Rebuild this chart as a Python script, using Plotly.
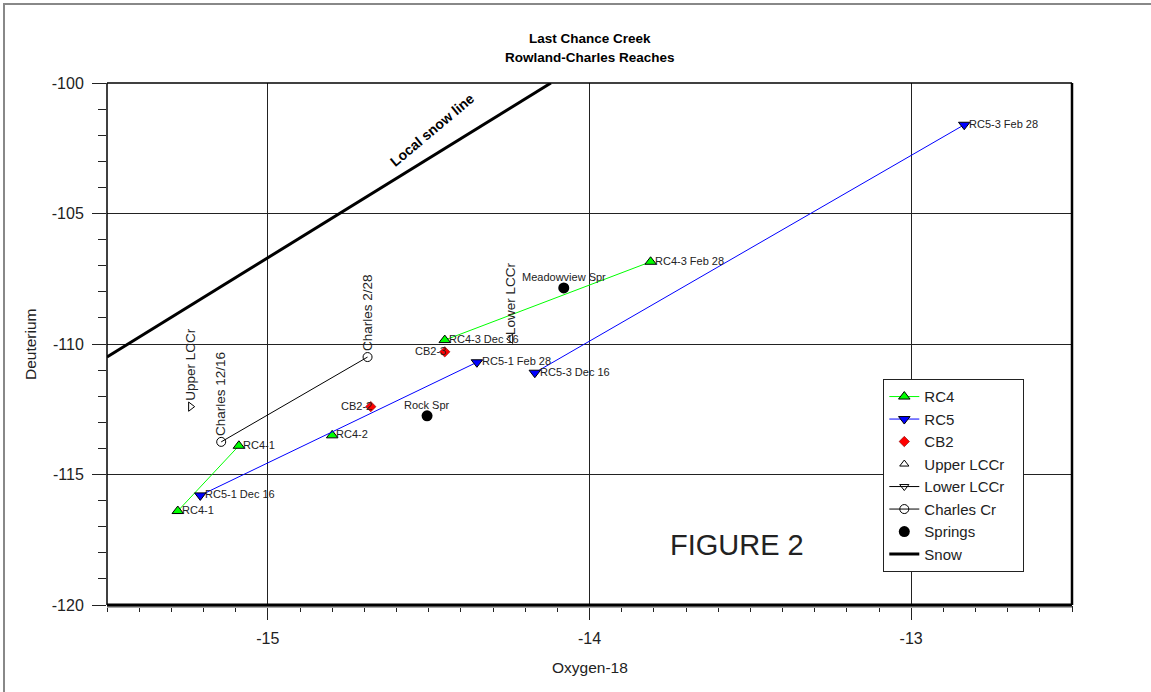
import numpy as np
import plotly.graph_objects as go

# ---------------- data ----------------
rc4_labels = ["RC4-1", "RC4-1", "RC4-2", "RC4-3 Dec 16", "RC4-3 Feb 28"]
rc4_x = [-15.28, -15.09, -14.80, -14.45, -13.81]
rc4_y = [-116.4, -113.9, -113.5, -109.85, -106.85]
rc4_groups = [[0, 1], [2], [3, 4]]

rc5_labels = ["RC5-1 Dec 16", "RC5-1 Feb 28", "RC5-3 Dec 16", "RC5-3 Feb 28"]
rc5_x = [-15.21, -14.35, -14.17, -12.835]
rc5_y = [-115.8, -110.7, -111.1, -101.6]
rc5_groups = [[0, 1], [2, 3]]

cb2_labels = ["CB2-2", "CB2-3"]
cb2_x = [-14.68, -14.45]
cb2_y = [-112.4, -110.3]

upper_labels = ["Upper LCCr"]
upper_x = [-15.24]
upper_y = [-112.4]

lower_labels = ["Lower LCCr"]
lower_x = [-14.245]
lower_y = [-109.8]

charles_labels = ["Charles 12/16", "Charles 2/28"]
charles_x = [-15.145, -14.69]
charles_y = [-113.75, -110.5]

springs_labels = ["Rock Spr", "Meadowview Spr"]
springs_x = [-14.505, -14.08]
springs_y = [-112.75, -107.85]

snow_x = [-15.5, -14.12]
snow_y = [-110.5, -100.0]

x_range = [-15.5, -12.5]
y_range = [-120, -100]
x_tickvals = [-15, -14, -13]
x_ticktext = ["-15", "-14", "-13"]
y_tickvals = [-120, -115, -110, -105, -100]
y_ticktext = ["-120", "-115", "-110", "-105", "-100"]

FONT = "Arial, Liberation Sans, Helvetica, sans-serif"


def grouped(xs, ys, groups):
    gx, gy = [], []
    for i, g in enumerate(groups):
        if i:
            gx.append(None)
            gy.append(None)
        gx += [xs[k] for k in g]
        gy += [ys[k] for k in g]
    return gx, gy


fig = go.Figure()

gx, gy = grouped(rc4_x, rc4_y, rc4_groups)
fig.add_trace(go.Scatter(x=gx, y=gy, mode="lines+markers", name="RC4",
                         line=dict(color="#00FF00", width=1),
                         marker=dict(symbol="triangle-up", size=10, color="#00FF00",
                                     line=dict(color="black", width=1))))
gx, gy = grouped(rc5_x, rc5_y, rc5_groups)
fig.add_trace(go.Scatter(x=gx, y=gy, mode="lines+markers", name="RC5",
                         line=dict(color="#0000FF", width=1),
                         marker=dict(symbol="triangle-down", size=10, color="#0000FF",
                                     line=dict(color="black", width=1))))
fig.add_trace(go.Scatter(x=cb2_x, y=cb2_y, mode="markers", name="CB2",
                         marker=dict(symbol="diamond", size=8, color="#FF0000",
                                     line=dict(color="#800000", width=0.6))))
# Upper LCCr
fig.add_trace(go.Scatter(x=upper_x, y=upper_y, mode="markers", name="Upper LCCr",
                         showlegend=False,
                         marker=dict(symbol="triangle-right-open", size=8, color="black",
                                     line=dict(width=1))))
fig.add_trace(go.Scatter(x=[None], y=[None], mode="markers", name="Upper LCCr&nbsp;&nbsp;&nbsp;",
                         marker=dict(symbol="triangle-up-open", size=8, color="black",
                                     line=dict(width=1))))
# Lower LCCr
fig.add_trace(go.Scatter(x=lower_x, y=lower_y, mode="markers", name="Lower LCCr",
                         showlegend=False,
                         marker=dict(symbol="triangle-left-open", size=8, color="black",
                                     line=dict(width=1))))
fig.add_trace(go.Scatter(x=[None], y=[None], mode="lines+markers", name="Lower LCCr",
                         line=dict(color="black", width=1),
                         marker=dict(symbol="triangle-down-open", size=8, color="black",
                                     line=dict(width=1))))
fig.add_trace(go.Scatter(x=charles_x, y=charles_y, mode="lines+markers", name="Charles Cr",
                         line=dict(color="black", width=1),
                         marker=dict(symbol="circle-open", size=9, color="black",
                                     line=dict(width=1))))
fig.add_trace(go.Scatter(x=springs_x, y=springs_y, mode="markers", name="Springs",
                         marker=dict(symbol="circle", size=11, color="black")))
fig.add_trace(go.Scatter(x=snow_x, y=snow_y, mode="lines", name="Snow",
                         line=dict(color="black", width=3)))

# ---------------- point labels ----------------
ann = []


def add_labels(labels, xs, ys, xanchor, yanchor, xshift=0, yshift=0, size=11, angle=0):
    for t, xv, yv in zip(labels, xs, ys):
        ann.append(dict(x=xv, y=yv, xref="x", yref="y", text=t, showarrow=False,
                        xanchor=xanchor, yanchor=yanchor, xshift=xshift, yshift=yshift,
                        textangle=angle, font=dict(family=FONT, size=size, color="#222")))


add_labels(rc4_labels, rc4_x, rc4_y, "left", "middle", xshift=2, yshift=1)
add_labels(rc5_labels, rc5_x, rc5_y, "left", "middle", xshift=3, yshift=1)
add_labels(cb2_labels, cb2_x, cb2_y, "right", "middle", xshift=3, yshift=1)
add_labels(springs_labels, springs_x, springs_y, "center", "bottom", yshift=3)
add_labels(upper_labels, upper_x, upper_y, "center", "bottom", yshift=4, size=13.5, angle=-90)
add_labels(lower_labels, lower_x, lower_y, "center", "bottom", yshift=2, size=13.5, angle=-90)
add_labels(charles_labels, charles_x, charles_y, "center", "bottom", yshift=4, size=13.5, angle=-90)

# snow line label
ann.append(dict(x=-14.49, y=-101.8, xref="x", yref="y", text="<b>Local snow line</b>", showarrow=False,
                textangle=-40, xanchor="center", yanchor="middle",
                font=dict(family=FONT, size=14, color="black")))

# titles
ann.append(dict(x=0.5, y=1.0, xref="paper", yref="paper", yshift=45, text="<b>Last Chance Creek</b>",
                showarrow=False, xanchor="center", yanchor="middle",
                font=dict(family=FONT, size=13.5, color="black")))
ann.append(dict(x=0.5, y=1.0, xref="paper", yref="paper", yshift=26, text="<b>Rowland-Charles Reaches</b>",
                showarrow=False, xanchor="center", yanchor="middle",
                font=dict(family=FONT, size=13.5, color="black")))
ann.append(dict(x=0.5, y=0.0, xref="paper", yref="paper", yshift=-62, text="Oxygen-18",
                showarrow=False, xanchor="center", yanchor="middle",
                font=dict(family=FONT, size=15.5, color="#222")))
ann.append(dict(x=0.0, y=0.5, xref="paper", yref="paper", xshift=-77, text="Deuterium",
                showarrow=False, xanchor="center", yanchor="middle", textangle=-90,
                font=dict(family=FONT, size=15.5, color="#222")))
ann.append(dict(x=(737 - 107) / 965, y=(605 - 545) / 522, xref="paper", yref="paper", text="FIGURE 2",
                showarrow=False, xanchor="center", yanchor="middle",
                font=dict(family=FONT, size=29, color="#222")))

# frame shapes
shapes = [
    dict(type="rect", xref="paper", yref="paper", x0=-103 / 965, x1=1150 / 965, y0=-88 / 522, y1=601 / 522,
         line=dict(color="#888", width=2), layer="below"),
    dict(type="line", xref="paper", yref="paper", x0=0, x1=1, y0=1, y1=1, line=dict(color="black", width=1.5)),
    dict(type="line", xref="paper", yref="paper", x0=0, x1=0, y0=0, y1=1, line=dict(color="black", width=1.5)),
    dict(type="line", xref="paper", yref="paper", x0=0, x1=1, y0=-2 / 522, y1=-2 / 522,
         line=dict(color="#aaa", width=2)),
    dict(type="line", xref="paper", yref="paper", x0=0, x1=1, y0=0, y1=0, line=dict(color="black", width=3)),
    dict(type="line", xref="paper", yref="paper", x0=1, x1=1, y0=0, y1=1, line=dict(color="black", width=2.5)),
]

fig.update_layout(
    width=1151, height=692,
    margin=dict(l=107, r=79, t=83, b=87, autoexpand=False),
    paper_bgcolor="white", plot_bgcolor="white",
    font=dict(family=FONT, color="#222"),
    showlegend=True,
    legend=dict(x=(883 - 107) / 965, y=(605 - 379) / 522, xanchor="left", yanchor="top",
                bgcolor="white", bordercolor="#222", borderwidth=1.3,
                font=dict(family=FONT, size=15, color="#222"),
                itemwidth=30, tracegroupgap=0),
    annotations=ann, shapes=shapes,
    xaxis=dict(range=x_range, tickmode="array", tickvals=x_tickvals, ticktext=x_ticktext,
               showgrid=True, gridcolor="#222", gridwidth=1,
               zeroline=False, showline=False, ticks="outside", ticklen=14, tickcolor="#222",
               tickwidth=1, tickfont=dict(family=FONT, size=16, color="#222"),
               ticklabelstandoff=5,
               minor=dict(dtick=0.1, tick0=-15, ticks="outside", ticklen=6, tickcolor="#222",
                          showgrid=False)),
    yaxis=dict(range=y_range, tickmode="array", tickvals=y_tickvals, ticktext=y_ticktext,
               showgrid=True, gridcolor="#222", gridwidth=1,
               zeroline=False, showline=False, ticks="outside", ticklen=14, tickcolor="#222",
               tickwidth=1, tickfont=dict(family=FONT, size=16, color="#222"),
               ticklabelstandoff=5,
               minor=dict(dtick=1, tick0=-120, ticks="outside", ticklen=8, tickcolor="#222",
                          showgrid=False)),
)

fig.write_html("out.html", config={"displayModeBar": False},
               post_script="document.body.style.margin='0';document.body.style.overflow='hidden';")
